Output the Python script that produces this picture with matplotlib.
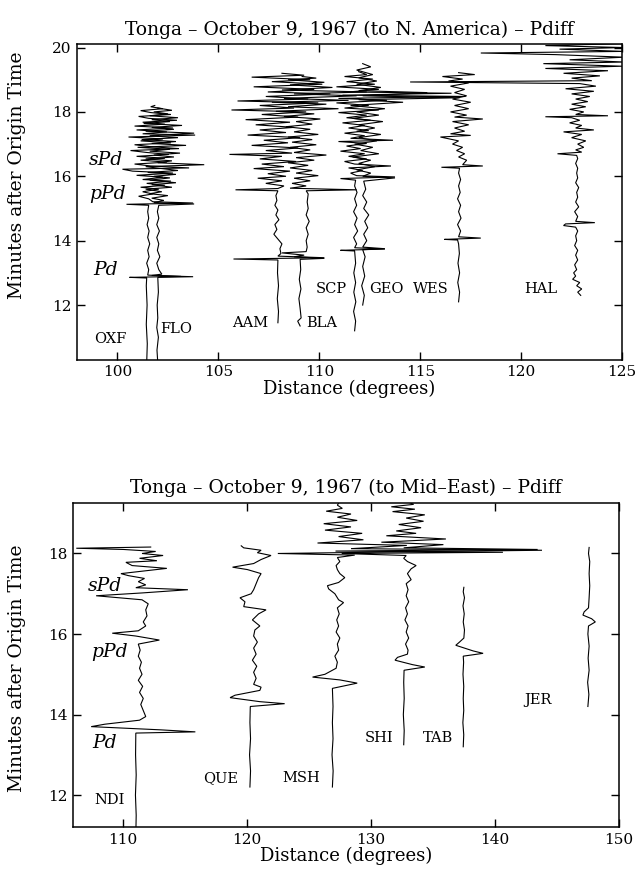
import numpy as np
import matplotlib
matplotlib.use("Agg")
import matplotlib.pyplot as plt

plt.rcParams["font.family"] = ["DejaVu Serif"]

# ---------------------------------------------------------------------------
# Station distances (degrees) and record traces.
# Each trace is a list of (time in minutes, horizontal deflection in degrees)
# measured from the station's distance.
# ---------------------------------------------------------------------------

# --- Record section to North America ---------------------------------------
na_stations = ["OXF", "FLO", "AAM", "BLA", "SCP", "GEO", "WES", "HAL"]
na_distances = [101.45, 102.0, 107.95, 109.05, 111.75, 112.15, 116.9, 122.7]

oxf = [(10.2, 0), (10.8, 0.03), (11.4, -0.02), (12.0, 0.02), (12.6, -0.02), (12.84, 0.0),
       (12.86, -0.85), (12.89, 1.7), (12.93, 0.05),
       (13.1, 0.1), (13.3, 0.0), (13.5, 0.12), (13.7, 0.05), (13.9, 0.15), (14.1, 0.05),
       (14.3, 0.12), (14.5, 0.02), (14.7, 0.1), (14.9, 0.05), (15.1, 0.1),
       (15.13, -1.0), (15.17, 2.3), (15.21, 0.3),
       (15.3, 0.1), (15.38, -0.4), (15.45, 0.3), (15.52, -0.2), (15.6, 0.6), (15.66, -0.3),
       (15.72, 0.9), (15.78, 0.0), (15.85, 1.2), (15.9, -0.2), (15.97, 0.8), (16.03, -0.5),
       (16.1, 1.3), (16.16, -0.7), (16.22, -1.2), (16.26, 2.1), (16.32, 0.2), (16.38, -0.6),
       (16.44, 1.0), (16.5, -0.3), (16.56, 0.9), (16.62, -0.5), (16.68, 1.1), (16.74, 0.0),
       (16.8, -0.8), (16.86, 1.6), (16.92, 0.2), (16.98, -0.6), (17.04, 1.2), (17.1, -0.3),
       (17.16, 0.8), (17.22, -0.9), (17.28, 2.4), (17.32, -0.2), (17.38, 1.0), (17.44, -0.5),
       (17.5, 1.3), (17.56, -0.6), (17.62, 0.9), (17.68, -0.2), (17.74, 1.5), (17.8, 0.1),
       (17.86, -0.4), (17.92, 1.2), (17.98, 0.2), (18.04, -0.3), (18.1, 0.8), (18.16, 0.2),
       (18.2, 0.4)]

flo = [(10.2, 0), (10.6, -0.04), (11.0, 0.03), (11.3, -0.05), (11.6, 0.0), (12.0, -0.03),
       (12.4, 0.03), (12.86, 0.0),
       (12.88, 1.75), (12.92, -0.3), (12.96, 0.2),
       (13.1, 0.05), (13.3, -0.05), (13.5, 0.1), (13.7, -0.02), (13.9, 0.05), (14.1, -0.05),
       (14.3, 0.08), (14.5, -0.05), (14.7, 0.05), (14.9, -0.02), (15.1, 0.05),
       (15.14, 1.8), (15.18, -0.2),
       (15.25, 0.3), (15.32, -0.3), (15.4, 0.5), (15.46, -0.4), (15.52, 0.2), (15.6, -0.6),
       (15.66, 0.7), (15.74, -0.3), (15.8, 0.9), (15.88, -0.4), (15.95, 0.6), (16.0, -0.2),
       (16.06, 0.9), (16.12, -0.5), (16.18, 1.0), (16.3, -0.6), (16.36, 2.3), (16.42, 0.0),
       (16.48, 0.7), (16.54, -0.6), (16.6, 0.8), (16.66, -0.2), (16.72, 1.1), (16.78, -0.4),
       (16.84, 0.6), (16.9, -1.0), (16.96, 1.4), (17.02, -0.3), (17.08, 0.9), (17.14, -0.8),
       (17.2, 1.0), (17.26, -0.4), (17.34, 1.8), (17.4, -0.6), (17.46, 0.8), (17.52, -0.3),
       (17.58, 1.2), (17.64, -0.7), (17.7, 0.6), (17.76, -0.3), (17.82, 1.0), (17.88, -0.4),
       (17.94, 0.5), (18.0, -0.2), (18.05, 0.7), (18.12, 0.0)]

aam = [(11.45, 0), (11.8, 0.03), (12.2, -0.03), (12.6, 0.03), (13.0, -0.02), (13.4, 0.0),
       (13.43, -2.2), (13.47, 2.3), (13.52, 0.0),
       (13.6, 0.15), (13.75, 0.1), (13.9, 0.2), (14.05, 0.0), (14.2, -0.2), (14.35, -0.05),
       (14.5, -0.15), (14.65, 0.05), (14.8, -0.1), (14.95, 0.0), (15.1, -0.15), (15.25, -0.05),
       (15.4, -0.1), (15.55, 0.0),
       (15.58, -2.1), (15.62, 0.0),
       (15.7, 0.3), (15.78, -0.6), (15.86, 0.2), (15.94, -1.0), (16.0, 0.4), (16.08, -0.5),
       (16.16, 0.6), (16.24, -1.2), (16.3, 0.3), (16.38, -0.8), (16.46, 0.9), (16.54, -0.9),
       (16.62, 0.2), (16.68, -2.4), (16.72, 0.7), (16.8, -0.6), (16.88, 1.0), (16.96, -1.3),
       (17.04, 0.5), (17.12, -0.7), (17.2, 1.1), (17.28, -1.5), (17.36, 0.4), (17.44, -0.9),
       (17.52, 0.8), (17.6, -1.1), (17.68, 0.6), (17.76, -1.6), (17.84, 1.0), (17.92, -0.8),
       (18.0, 1.4), (18.06, -2.3), (18.12, 0.8), (18.2, -0.9), (18.28, 2.0), (18.34, -2.0),
       (18.4, 1.5), (18.48, -0.6), (18.56, 2.6), (18.62, -0.5), (18.7, 1.8), (18.78, -1.2),
       (18.86, 2.2), (18.94, -0.3), (19.0, 1.6), (19.08, -1.3), (19.14, 1.3), (19.2, 0.2)]

bla = [(11.35, 0), (11.5, -0.12), (11.6, 0.05), (11.9, 0.0), (12.2, -0.06), (12.5, 0.04),
       (12.8, -0.04), (13.1, 0.03), (13.42, 0.0),
       (13.45, 1.2), (13.5, -0.3), (13.55, 0.2),
       (13.62, -0.9), (13.66, 0.3), (13.8, 0.35), (14.0, 0.3), (14.2, 0.4), (14.4, 0.3),
       (14.6, 0.45), (14.8, 0.3), (15.0, 0.4), (15.2, 0.35), (15.45, 0.4), (15.55, 0.3),
       (15.58, 2.8), (15.63, -0.5), (15.7, 0.3),
       (15.78, -0.4), (15.86, 0.5), (15.94, -0.3), (16.02, 0.9), (16.1, -0.2), (16.18, 0.6),
       (16.26, -0.5), (16.34, 0.4), (16.42, -0.6), (16.5, 0.7), (16.58, -0.2), (16.66, 1.3),
       (16.74, -0.3), (16.82, 0.5), (16.9, -0.5), (16.98, 0.8), (17.06, -0.4), (17.14, 0.6),
       (17.22, -0.6), (17.3, 0.9), (17.38, -0.3), (17.46, 0.5), (17.54, -0.7), (17.62, 0.6),
       (17.7, -0.2), (17.78, 1.0), (17.86, -0.8), (17.94, 0.7), (18.02, -1.2), (18.1, 1.9),
       (18.16, -0.6), (18.24, 1.3), (18.3, -1.4), (18.36, 2.4), (18.42, -0.8), (18.5, 2.8),
       (18.56, -0.3), (18.62, 3.3), (18.68, -0.9), (18.76, 1.6), (18.84, -0.5), (18.92, 1.2),
       (19.0, -0.6), (19.05, 0.8), (19.1, 0.1)]

scp = [(11.2, 0), (11.5, 0.05), (11.8, -0.05), (12.1, 0.06), (12.4, -0.04), (12.7, 0.05),
       (13.0, -0.04), (13.3, 0.05), (13.68, 0.0),
       (13.7, -0.7), (13.74, 1.5), (13.78, 0.0),
       (13.9, 0.1), (14.1, -0.05), (14.3, 0.15), (14.5, 0.0), (14.7, 0.12), (14.9, -0.05),
       (15.1, 0.1), (15.3, 0.0), (15.5, 0.12), (15.7, 0.0), (15.88, 0.05),
       (15.93, -0.7), (15.98, 2.0), (16.02, 0.1),
       (16.1, -0.2), (16.18, 0.4), (16.26, -0.3), (16.32, 1.8), (16.38, 0.0), (16.46, -0.5),
       (16.54, 0.6), (16.62, -0.3), (16.7, 0.5), (16.78, -0.7), (16.86, 0.3), (16.94, -0.4),
       (17.02, 0.6), (17.08, -0.8), (17.12, 1.9), (17.18, -0.2), (17.26, 0.5), (17.34, -0.5),
       (17.42, 0.7), (17.5, -0.3), (17.58, 0.5), (17.66, -0.6), (17.74, 0.8), (17.82, -0.4),
       (17.9, 0.6), (17.98, -0.8), (18.06, 1.2), (18.12, -0.5), (18.2, 0.7), (18.28, -0.9),
       (18.36, 1.6), (18.42, -0.8), (18.48, 5.5), (18.52, -0.6), (18.58, 4.8), (18.62, -0.3),
       (18.7, 1.2), (18.78, -0.9), (18.86, 1.0), (18.94, -0.4), (19.02, 0.9), (19.1, -0.5),
       (19.16, 0.6), (19.25, 0.2)]

geo = [(12.0, 0), (12.3, 0.08), (12.6, -0.05), (12.9, 0.1), (13.2, 0.0), (13.5, 0.12),
       (13.72, 0.0), (13.75, 1.1), (13.8, 0.0),
       (14.0, 0.2), (14.2, 0.05), (14.4, 0.25), (14.6, 0.1), (14.8, 0.3), (15.0, 0.05),
       (15.2, 0.2), (15.4, 0.0), (15.6, 0.15), (15.85, 0.05),
       (15.95, 1.6), (16.0, 0.0),
       (16.1, 0.4), (16.2, -0.3), (16.3, 0.6), (16.4, -0.2), (16.5, 0.4), (16.6, -0.5),
       (16.7, 0.8), (16.8, -0.1), (16.9, 0.5), (17.0, -0.4), (17.1, 0.7), (17.2, -0.2),
       (17.3, 0.9), (17.4, -0.3), (17.5, 0.6), (17.6, -0.2), (17.7, 1.0), (17.8, -0.5),
       (17.9, 0.8), (18.0, -0.3), (18.1, 1.1), (18.2, -0.6), (18.3, 2.0), (18.38, -0.2),
       (18.44, 4.8), (18.5, 0.0), (18.6, 3.2), (18.66, -0.2), (18.76, 0.9), (18.86, -0.3),
       (18.96, 0.7), (19.06, -0.2), (19.16, 0.5), (19.3, -0.3), (19.4, 0.4), (19.5, 0.0)]

wes = [(12.1, 0), (12.4, 0.05), (12.7, -0.04), (13.0, 0.05), (13.3, -0.03), (13.6, 0.04),
       (13.9, 0.0), (14.02, -0.05),
       (14.04, -0.7), (14.08, 1.1), (14.12, 0.0),
       (14.3, 0.1), (14.5, -0.05), (14.7, 0.12), (14.9, 0.0), (15.1, 0.1), (15.3, -0.05),
       (15.5, 0.08), (15.7, 0.0), (15.9, 0.1), (16.1, 0.0), (16.25, 0.05),
       (16.28, -0.85), (16.32, 1.2), (16.36, 0.2),
       (16.5, 0.4), (16.6, 0.0), (16.7, 0.3), (16.8, -0.1), (16.9, 0.2), (17.0, -0.3),
       (17.1, 0.0), (17.22, -0.9), (17.27, 0.6), (17.32, -0.4), (17.4, 0.3), (17.5, -0.2),
       (17.6, 0.5), (17.7, -0.3), (17.78, 1.2), (17.84, -0.2), (17.9, 0.4), (18.0, -0.4),
       (18.1, 0.5), (18.2, -0.2), (18.3, 0.6), (18.4, -0.3), (18.5, 0.4), (18.6, -0.2),
       (18.7, 0.3), (18.8, -0.4), (18.9, 0.5), (18.96, -0.5), (19.02, 0.2), (19.1, -0.8),
       (19.16, 0.8), (19.22, 0.0)]

hal = [(12.3, 0.25), (12.4, 0.1), (12.5, 0.3), (12.6, 0.05), (12.7, 0.2), (12.8, -0.15),
       (12.9, 0.0), (13.0, -0.1), (13.1, 0.05), (13.25, -0.05), (13.4, 0.1), (13.55, 0.0),
       (13.7, 0.1), (13.85, -0.05), (14.0, 0.05), (14.15, 0.0), (14.3, 0.1), (14.42, 0.0),
       (14.47, -0.6), (14.52, -0.5), (14.56, 0.95), (14.6, 0.0),
       (14.75, 0.1), (14.9, -0.05), (15.05, 0.15), (15.2, 0.0), (15.35, 0.1), (15.5, 0.05),
       (15.65, 0.15), (15.8, 0.0), (15.95, 0.1), (16.1, 0.05), (16.25, 0.1), (16.4, 0.0),
       (16.55, 0.1), (16.65, 0.05),
       (16.7, -0.9), (16.75, 0.3), (16.82, 0.0), (16.9, 0.4), (17.0, 0.1), (17.1, 0.5),
       (17.2, -0.2), (17.3, 0.3), (17.38, -0.6), (17.44, 0.9), (17.5, 0.0), (17.58, 0.3),
       (17.66, -0.3), (17.74, 0.2), (17.82, -0.2),
       (17.85, -1.5), (17.88, 1.6), (17.92, 0.0), (18.0, 0.4), (18.08, -0.3), (18.16, 0.5),
       (18.24, -0.2), (18.32, 0.6), (18.4, 0.0), (18.48, 0.7), (18.56, -0.2), (18.64, 0.9),
       (18.72, -0.5), (18.8, 1.0), (18.88, 0.2),
       (18.93, -8.2), (18.97, 0.8), (19.05, -0.2), (19.12, 1.2), (19.2, -0.6), (19.28, 1.6),
       (19.35, -1.5), (19.42, 2.3), (19.5, -1.6), (19.55, 2.4), (19.62, -0.3), (19.7, 2.4),
       (19.78, -1.0), (19.83, -4.7), (19.88, 2.4), (19.95, -0.8), (20.0, 2.4), (20.06, -1.5),
       (20.12, 2.3)]

na_traces = [oxf, flo, aam, bla, scp, geo, wes, hal]
na_label_pos = [(99.65, 10.95), (102.9, 11.25), (106.6, 11.45), (110.1, 11.45),
                (110.6, 12.5), (113.3, 12.5), (115.5, 12.5), (120.95, 12.5)]
na_phase_pos = [(99.45, 16.5), (99.5, 15.45), (99.4, 13.1)]

# --- Record section to the Middle East --------------------------------------
me_stations = ["NDI", "QUE", "MSH", "SHI", "TAB", "JER"]
me_distances = [111.05, 120.25, 126.9, 132.65, 137.45, 147.5]

ndi = [(11.0, 0), (11.5, 0.03), (12.0, -0.03), (12.5, 0.03), (13.0, -0.02), (13.54, 0.0),
       (13.57, 4.8), (13.62, 2.0), (13.7, -3.6), (13.76, -2.5), (13.86, 0.3), (13.95, 0.8),
       (14.1, 0.6), (14.25, 0.4), (14.4, 0.6), (14.55, 0.3), (14.7, 0.55), (14.85, 0.2),
       (15.0, 0.5), (15.15, 0.3), (15.3, 0.45), (15.45, 0.2), (15.6, 0.35), (15.75, 0.2),
       (15.85, 1.9), (15.95, 0.0), (16.02, -1.9), (16.08, 0.2), (16.2, 0.8), (16.3, 0.6),
       (16.45, 0.9), (16.6, 0.8), (16.75, 1.0), (16.85, 0.5),
       (16.95, -3.2), (17.02, 0.5), (17.1, 4.2), (17.15, 0.0), (17.22, 0.8), (17.3, 0.2),
       (17.38, 0.7), (17.45, -0.6), (17.5, -1.2), (17.56, 0.5), (17.63, 2.5), (17.7, -0.3),
       (17.78, -0.8), (17.82, 1.7), (17.88, 0.3), (17.95, 2.2), (18.0, 0.5), (18.05, 1.6),
       (18.1, -1.0), (18.13, -4.8), (18.16, 1.2)]

que = [(12.2, 0), (12.6, 0.05), (13.0, -0.03), (13.4, 0.05), (13.8, 0.0), (14.2, 0.03),
       (14.27, 2.8), (14.32, 0.8), (14.42, -1.6), (14.48, -1.2), (14.6, 0.8), (14.68, 0.9),
       (14.75, 0.3), (14.9, 0.5), (15.05, 0.3), (15.2, 0.55), (15.35, 0.2), (15.5, 0.5),
       (15.65, 0.3), (15.8, 0.6), (15.95, 0.3), (16.1, 0.4), (16.2, 0.8), (16.35, 0.2),
       (16.5, 0.7), (16.6, 1.3), (16.68, -0.5), (16.8, -0.4), (16.9, -0.8), (17.0, 0.1),
       (17.1, 0.3), (17.25, 0.5), (17.4, 0.7), (17.5, 0.9), (17.6, -0.2), (17.66, -1.4),
       (17.75, 0.3), (17.85, 0.9), (17.95, 1.7), (18.02, 0.6), (18.08, 0.9), (18.14, -0.5),
       (18.19, -0.7)]

msh = [(12.2, 0), (12.6, 0.06), (13.0, -0.03), (13.4, 0.05), (13.8, 0.0), (14.2, 0.05),
       (14.65, 0.0),
       (14.78, 2.0), (14.86, 0.6), (14.93, -1.6), (15.0, -0.6), (15.15, 0.3), (15.3, 0.4),
       (15.45, 0.2), (15.6, 0.5), (15.75, 0.4), (15.9, 0.6), (16.05, 0.3), (16.2, 0.5),
       (16.35, 0.35), (16.5, 0.55), (16.65, 0.4), (16.78, 0.9), (16.85, 0.5), (17.0, 0.2),
       (17.12, -0.3), (17.2, -0.4), (17.28, 0.5), (17.4, 1.0), (17.5, 0.6), (17.6, 0.4),
       (17.7, 0.3), (17.8, 0.6), (17.9, 0.4),
       (17.96, 1.8), (18.0, -4.4), (18.04, 5.5), (18.08, 16.9), (18.12, 1.5), (18.2, 6.0),
       (18.26, -1.2), (18.34, 2.5), (18.42, 0.5), (18.5, 2.4), (18.58, -0.6), (18.66, 1.5),
       (18.74, -0.7), (18.82, 2.0), (18.9, 0.4), (18.98, 1.5), (19.05, -0.5), (19.12, 0.8),
       (19.2, 0.4), (19.3, 0.6)]

shi = [(13.25, 0), (13.6, 0.04), (14.0, -0.03), (14.4, 0.04), (14.8, 0.0), (15.1, 0.03),
       (15.18, 1.7), (15.24, 0.7), (15.35, -0.7), (15.42, -0.5), (15.5, 0.3), (15.6, 0.35),
       (15.75, 0.15), (15.9, 0.4), (16.05, 0.2), (16.2, 0.35), (16.35, 0.1), (16.5, 0.3),
       (16.65, 0.15), (16.8, 0.4), (16.95, 0.2), (17.1, 0.35), (17.25, 0.2), (17.35, 0.6),
       (17.5, 0.3), (17.62, 0.6), (17.7, 1.0), (17.8, 0.3), (17.88, 0.0), (17.95, 0.2),
       (18.0, -5.0), (18.03, 8.0), (18.06, -5.5), (18.1, 10.8), (18.14, 0.0), (18.22, 3.2),
       (18.28, -1.8), (18.36, 3.4), (18.44, -1.4), (18.5, 1.0), (18.56, -0.6), (18.64, 1.4),
       (18.72, -0.4), (18.8, 1.6), (18.88, 0.2), (18.96, 1.7), (19.04, -0.9), (19.1, 0.9),
       (19.16, -1.0), (19.22, 0.8), (19.3, 0.2)]

tab = [(13.2, 0), (13.5, 0.04), (13.8, -0.03), (14.1, 0.04), (14.4, 0.0), (14.7, 0.04),
       (15.0, -0.02), (15.3, 0.03), (15.45, 0.0),
       (15.52, 1.6), (15.58, 0.8), (15.72, -0.6), (15.8, -0.3), (15.9, 0.05), (16.1, 0.1),
       (16.3, 0.0), (16.5, 0.08), (16.7, -0.02), (16.9, 0.1), (17.05, 0.0), (17.16, 0.05)]

jer = [(14.2, 0), (14.5, 0.08), (14.8, -0.02), (15.1, 0.1), (15.4, 0.02), (15.7, 0.1),
       (16.0, 0.0), (16.2, 0.05), (16.3, 0.6), (16.38, 0.3), (16.47, -0.4), (16.55, -0.3),
       (16.65, 0.05), (16.9, 0.1), (17.2, 0.15), (17.5, 0.1), (17.8, 0.15), (18.0, 0.05),
       (18.15, 0.1)]

me_traces = [ndi, que, msh, shi, tab, jer]
me_label_pos = [(108.9, 11.88), (117.85, 12.42), (124.4, 12.42), (130.7, 13.41),
                (135.4, 13.41), (143.5, 14.36)]
me_phase_pos = [(108.55, 17.2), (108.95, 15.55), (108.5, 13.3)]

phase_names = ["sPd", "pPd", "Pd"]
y_label = "Minutes after Origin Time"
x_label = "Distance (degrees)"
title_na = "Tonga \u2013 October 9, 1967 (to N. America) \u2013 Pdiff"
title_me = "Tonga \u2013 October 9, 1967 (to Mid\u2013East) \u2013 Pdiff"


def draw_section(ax, distances, traces, names, label_pos, phase_pos):
    for dist, trace in zip(distances, traces):
        t = np.array([p[0] for p in trace])
        dx = np.array([p[1] for p in trace])
        ax.plot(dist + dx, t, color="black", lw=0.8, solid_joinstyle="miter")
    for name, (x, y) in zip(names, label_pos):
        ax.text(x, y, name, ha="center", va="center", fontsize=10.5)
    for name, (x, y) in zip(phase_names, phase_pos):
        ax.text(x, y, name, ha="center", va="center", fontsize=13.5, style="italic")


def style_axes(ax, xlim, ylim, xticks, yticks, title):
    ax.set_xlim(*xlim)
    ax.set_ylim(*ylim)
    ax.set_xticks(xticks)
    ax.set_yticks(yticks)
    ax.tick_params(direction="in", length=5.5, width=1.0, top=True, right=True,
                   labelsize=11, pad=4)
    for s in ax.spines.values():
        s.set_linewidth(1.1)
    ax.set_title(title, fontsize=13.5, pad=7)
    ax.set_xlabel(x_label, fontsize=13, labelpad=0)


fig = plt.figure(figsize=(6.42, 8.69), dpi=100)

ax1 = fig.add_axes([0.120, 0.586, 0.849, 0.363])
draw_section(ax1, na_distances, na_traces, na_stations, na_label_pos, na_phase_pos)
style_axes(ax1, (98, 125), (10.3, 20.1), [100, 105, 110, 115, 120, 125],
           [12, 14, 16, 18, 20], title_na)

ax2 = fig.add_axes([0.114, 0.048, 0.850, 0.373])
draw_section(ax2, me_distances, me_traces, me_stations, me_label_pos, me_phase_pos)
style_axes(ax2, (106, 150), (11.2, 19.25), [110, 120, 130, 140, 150],
           [12, 14, 16, 18], title_me)

fig.text(17 / 642, 1 - 175 / 869, y_label, rotation=90, ha="center", va="center",
         fontsize=13.5)
fig.text(17 / 642, 1 - 668 / 869, y_label, rotation=90, ha="center", va="center",
         fontsize=13.5)

fig.savefig("out.png", dpi=100)
